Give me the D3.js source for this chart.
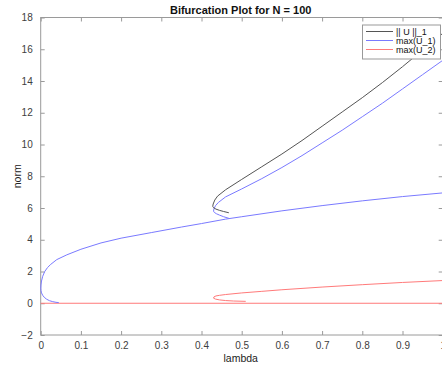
<!DOCTYPE html>
<html><head><meta charset="utf-8">
<script src="https://cdn.jsdelivr.net/npm/d3@7"></script>
<style>body{margin:0;background:#fff}svg{display:block}text{font-family:"Liberation Sans",Arial,sans-serif}</style>
</head><body><svg id="c" width="442" height="366"></svg>
<script>
// ---- data ----
const xTicks = [0,0.1,0.2,0.3,0.4,0.5,0.6,0.7,0.8,0.9,1];
const yTicks = [-2,0,2,4,6,8,10,12,14,16,18];
const legendLabels = ["|| U ||_1","max(U_1)","max(U_2)"];
// ||U||_1 branch (black)
const normLam = [0.468,0.455,0.445,0.436,0.430,0.428,0.429,0.433,0.44,0.46,0.5,0.55,0.6,0.65,0.7,0.75,0.8,0.85,0.9,0.95,1.0];
const normVal = [5.70,5.78,5.85,5.93,6.02,6.10,6.25,6.50,6.75,7.15,7.80,8.60,9.40,10.25,11.15,12.05,12.95,13.9,14.9,15.95,17.0];
// max(U_1) main branch (blue)
const u1Lam = [0.045,0.038,0.03,0.022,0.015,0.009,0.005,0.002,0.0007,0.0003,0.0007,0.002,0.005,0.01,0.017,0.025,0.04,0.065,0.1,0.15,0.2,0.275,0.35,0.4,0.46,0.5,0.6,0.7,0.8,0.9,1.0];
const u1Val = [0.04,0.06,0.10,0.16,0.25,0.37,0.50,0.65,0.80,0.95,1.15,1.40,1.70,2.00,2.25,2.45,2.75,3.05,3.40,3.80,4.10,4.45,4.80,5.02,5.30,5.45,5.82,6.15,6.45,6.72,6.95];
// max(U_1) folded branch (blue)
const u1bLam = [0.468,0.455,0.445,0.437,0.432,0.430,0.431,0.435,0.442,0.46,0.5,0.55,0.6,0.65,0.7,0.75,0.8,0.85,0.9,0.95,1.0];
const u1bVal = [5.35,5.45,5.55,5.64,5.72,5.80,5.95,6.15,6.35,6.70,7.20,7.85,8.55,9.30,10.10,10.90,11.75,12.60,13.50,14.40,15.30];
// max(U_2) (red)
const u2Lam = [0,1];
const u2Val = [0,0];
const u2bLam = [0.51,0.48,0.46,0.445,0.435,0.43,0.431,0.436,0.445,0.46,0.5,0.55,0.6,0.7,0.8,0.9,1.0];
const u2bVal = [0.12,0.14,0.17,0.21,0.26,0.32,0.40,0.46,0.50,0.55,0.65,0.75,0.85,1.02,1.17,1.31,1.43];

// ---- layout ----
const L=40.7, R=442.7, T=17.5, B=335;
const x=d3.scaleLinear().domain([0,1]).range([L,R]);
const y=d3.scaleLinear().domain([-2,18]).range([B,T]);
const svg=d3.select("#c");
const axisCol="#9a9a9a", txtCol="#404040";

// box
svg.append("rect").attr("x",L).attr("y",T).attr("width",R-L).attr("height",B-T)
  .attr("fill","none").attr("stroke",axisCol).attr("stroke-width",1);

// axes with inward ticks
const gx=svg.append("g").attr("transform",`translate(0,${B})`)
  .call(d3.axisBottom(x).tickValues(xTicks).tickSize(-4).tickPadding(7).tickFormat(d=>d===0?"0":d3.format("")(d)));
const gxt=svg.append("g").attr("transform",`translate(0,${T})`)
  .call(d3.axisTop(x).tickValues(xTicks).tickSize(-4).tickFormat(""));
const gy=svg.append("g").attr("transform",`translate(${L},0)`)
  .call(d3.axisLeft(y).tickValues(yTicks).tickSize(-4).tickPadding(8));
const gyr=svg.append("g").attr("transform",`translate(${R},0)`)
  .call(d3.axisRight(y).tickValues(yTicks).tickSize(-4).tickFormat(""));
[gx,gxt,gy,gyr].forEach(g=>{
  g.select(".domain").remove();
  g.selectAll("line").attr("stroke",axisCol);
  g.selectAll("text").attr("fill",txtCol).style("font-size","10px").style("font-family","'Liberation Sans',Arial,sans-serif");
});

// curves
const line=d3.line().x(d=>x(d[0])).y(d=>y(d[1]));
function draw(lam,val,col){
  svg.append("path").datum(d3.zip(lam,val)).attr("d",line)
    .attr("fill","none").attr("stroke",col).attr("stroke-width",1);
}
const cBlack="#555555", cBlue="#7a7aff", cRed="#ff7a7a";
draw(u2Lam,u2Val,cRed);
draw(u2bLam,u2bVal,cRed);
draw(u1Lam,u1Val,cBlue);
draw(u1bLam,u1bVal,cBlue);
draw(normLam,normVal,cBlack);

// title and labels
svg.append("text").attr("x",(L+R)/2-1).attr("y",14).attr("text-anchor","middle")
  .style("font-size","11px").style("font-weight","bold").attr("fill","#111").text("Bifurcation Plot for N = 100");
svg.append("text").attr("x",(L+R)/2-1).attr("y",362).attr("text-anchor","middle")
  .style("font-size","10.5px").attr("fill","#222").text("lambda");
svg.append("text").attr("transform",`translate(21,${(T+B)/2}) rotate(-90)`).attr("text-anchor","middle")
  .style("font-size","10.5px").attr("fill","#222").text("norm");

// legend
const lg=svg.append("g");
lg.append("rect").attr("x",362.5).attr("y",25).attr("width",78).attr("height",34)
  .attr("fill","#fff").attr("stroke","#999").attr("stroke-width",1);
const cols=[cBlack,cBlue,cRed];
legendLabels.forEach((t,i)=>{
  const yy=31.5+i*9;
  lg.append("line").attr("x1",366).attr("x2",393).attr("y1",yy).attr("y2",yy).attr("stroke",cols[i]).attr("stroke-width",1);
  lg.append("text").attr("x",396).attr("y",yy+3).style("font-size","9px").attr("fill","#111").text(t);
});
</script></body></html>
